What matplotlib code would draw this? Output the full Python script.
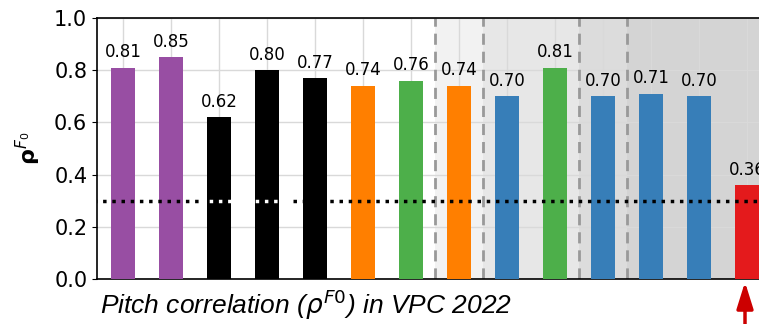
import numpy as np
import matplotlib.pyplot as plt

# pitch correlation per system, VPC 2022
scores = [0.81, 0.85, 0.62, 0.80, 0.77, 0.74, 0.76, 0.74, 0.70, 0.81, 0.70, 0.71, 0.70, 0.36]
colors = ['#984ea3', '#984ea3', 'black', 'black', 'black', '#ff7f00', '#4daf4a',
          '#ff7f00', '#377eb8', '#4daf4a', '#377eb8', '#377eb8', '#377eb8', '#e41a1c']
group_edges = [6.5, 7.5, 9.5, 10.5]
shade = ['#f2f2f2', '#e7e7e7', '#dcdcdc', '#d4d4d4']
threshold = 0.3

fig = plt.figure(figsize=(7.59, 3.24), dpi=100)
ax = fig.add_axes([97 / 759, 45 / 324, 722 / 759, 261 / 324])

x = np.arange(len(scores))
xmax = 14.5

# shaded background for the later groups
for i, left in enumerate(group_edges):
    right = group_edges[i + 1] if i + 1 < len(group_edges) else xmax
    ax.axvspan(left, right, color=shade[i], lw=0, zorder=0)
for e in group_edges:
    ax.axvline(e, color='#999999', ls=(0, (4, 2.5)), lw=2, zorder=1)

bars = ax.bar(x, scores, width=0.5, color=colors, zorder=3)
for xi, s in zip(x, scores):
    ax.text(xi, s + 0.025, f'{s:.2f}', ha='center', va='bottom', fontsize=12, zorder=4)

# chance line
ax.plot([-1, 1.6], [threshold] * 2, color='black', ls=':', lw=2.5, zorder=4)
ax.plot([1.6, 3.55], [threshold] * 2, color='white', ls=':', lw=2.5, zorder=4)
ax.plot([3.55, xmax], [threshold] * 2, color='black', ls=':', lw=2.5, zorder=4)

ax.set_xlim(-0.54, xmax)
ax.set_ylim(0, 1.0)
ax.set_yticks(np.arange(0, 1.01, 0.2))
ax.set_yticklabels([f'{v:.1f}' for v in np.arange(0, 1.01, 0.2)], fontsize=15)
ax.set_xticks(x)
ax.set_xticklabels([])
ax.tick_params(axis='x', length=0)
ax.grid(True, color='#d9d9d9', lw=1, zorder=0.5)
ax.set_axisbelow(True)
for sp in ax.spines.values():
    sp.set_linewidth(1.2)

fig.text(28 / 759, 1 - 148 / 324, r'$\mathbf{\rho}^{F_0}$', rotation=90,
         ha='center', va='center', fontsize=16)

fig.text(100 / 759, 1 - 305 / 324, r'Pitch correlation ($\rho^{F0}$) in VPC 2022',
         family='Liberation Sans', style='italic', fontsize=19, ha='left', va='center')

ax.annotate('', xy=(745 / 759, 1 - 282 / 324), xycoords='figure fraction',
            xytext=(745 / 759, -0.05), textcoords='figure fraction',
            arrowprops=dict(arrowstyle='-|>,head_length=1.6,head_width=0.5',
                            color='#cc0000', lw=2.5, shrinkA=0, shrinkB=0))

fig.savefig('out.png', dpi=100)
